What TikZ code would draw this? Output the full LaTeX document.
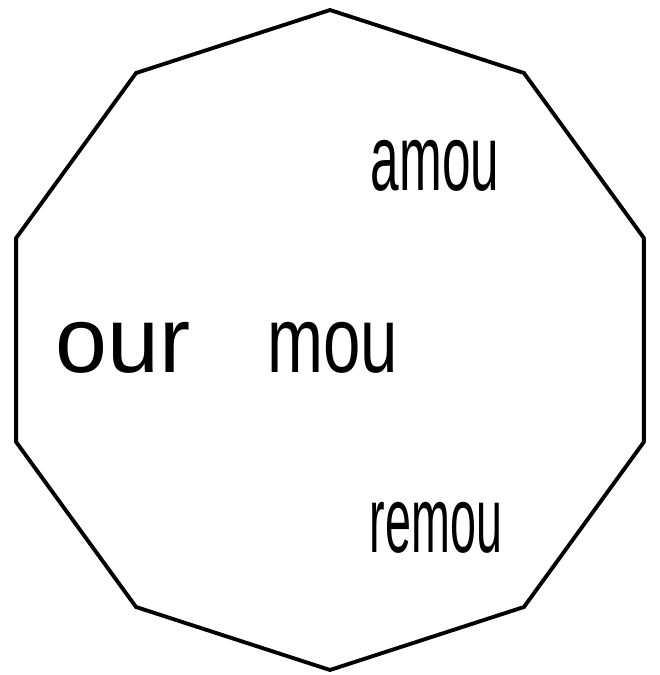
\documentclass[tikz,border=0pt]{standalone}
\usepackage{fontspec}
\setmainfont{Liberation Sans}
\usetikzlibrary{positioning, calc}

\begin{document}
\begin{tikzpicture}[
    x=0.75pt, y=-0.75pt,
    rim/.style={draw=black, line width=2.9pt, line join=miter},
    word/.style={anchor=base, inner sep=0pt, font=\fontsize{70}{70}\selectfont},
    narrow/.style={anchor=base, inner sep=0pt, font=\fontsize{70}{70}\selectfont}
]
\useasboundingbox (0,0) rectangle (660,675);

% Outline (regular decagon)
\coordinate (mid) at (330,340);
\draw[rim] ($(mid)+(90:330)$)
    \foreach \k in {1,...,9} { -- ($(mid)+(90+36*\k:330)$) } -- cycle;

% Words
\node[word]   (our)   at (123,372) {our};
\node[narrow] (mou)   at (333,372) {\scalebox{0.72}[1]{mou}};
\node[narrow] (amou)  at (435,190) {\scalebox{0.55}[1]{amou}};
\node[narrow] (remou) at (436,552) {\scalebox{0.5}[1]{remou}};

\end{tikzpicture}
\end{document}
